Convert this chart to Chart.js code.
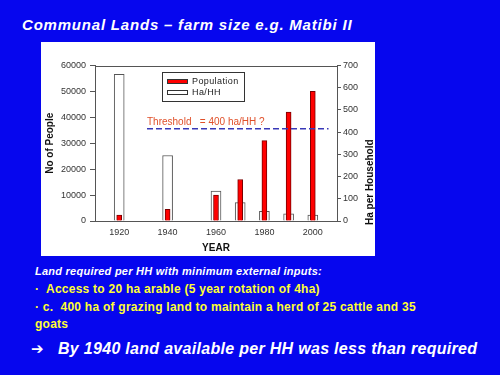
<!DOCTYPE html>
<html>
<head>
<meta charset="utf-8">
<script src="https://cdn.jsdelivr.net/npm/chart.js@4.4.1/dist/chart.umd.min.js"></script>
<style>
  html, body { margin: 0; padding: 0; }
  body {
    width: 500px; height: 375px; overflow: hidden; position: relative;
    background: #0606ee; font-family: "Liberation Sans", Arial, sans-serif;
  }
  .txt { position: absolute; white-space: pre; line-height: 1; }
  .title { left: 22px; top: 17px; font-size: 15px; font-weight: bold; font-style: italic; color: #fff; letter-spacing: 0.8px; }
  .intro { left: 35px; top: 266px; font-size: 11px; font-weight: bold; font-style: italic; color: #fff; letter-spacing: 0.25px; }
  .bullet { left: 35px; font-size: 12px; font-weight: bold; color: #ffff33; letter-spacing: 0.25px; }
  .concl { left: 58px; top: 341px; font-size: 16px; font-weight: bold; font-style: italic; color: #fff; letter-spacing: 0.3px; }
  .arrow { left: 31px; top: 342px; font-family: "DejaVu Sans", sans-serif; font-size: 15px; font-weight: bold; color: #fff; }
  #panel { position: absolute; left: 41px; top: 42px; width: 334px; height: 214px; background: #fff; }
  #legend { position: absolute; left: 121px; top: 30px; width: 81px; height: 28px; border: 1px solid #333; background: #fff; }
  .leg-item { position: absolute; left: 4px; height: 10px; font-size: 9px; color: #222; letter-spacing: 0.4px; }
  .leg-item i { position: absolute; left: 0; top: 2px; width: 19px; height: 3px; border: 1px solid #333; }
  .leg-item span { position: absolute; left: 25px; top: -1px; }
  #threshold { position: absolute; left: 106px; top: 74px; font-size: 10px; color: #e0502a; white-space: pre; }
  #rtitle { position: absolute; left: 329px; top: 97px; font-size: 10px; font-weight: bold; color: #111; transform-origin: 0 0; transform: translate(-6px, 0) rotate(-90deg) translate(-86px, 0); white-space: pre; }
</style>
</head>
<body>
<div class="txt title">Communal Lands – farm size e.g. Matibi II</div>

<div id="panel">
  <canvas id="farm-chart"></canvas>
  <div id="legend"></div>
  <div id="threshold">Threshold   = 400 ha/HH ?</div>
  <div id="rtitle">Ha per Household</div>
</div>

<div class="txt intro">Land required per HH with minimum external inputs:</div>
<div class="txt bullet" style="top:283px">·  Access to 20 ha arable (5 year rotation of 4ha)</div>
<div class="txt bullet" style="top:301px">· c.  400 ha of grazing land to maintain a herd of 25 cattle and 35</div>
<div class="txt bullet" style="top:318px">goats</div>
<div class="txt arrow">➔</div>
<div class="txt concl">By 1940 land available per HH was less than required</div>

<script>
const years = [1920, 1940, 1960, 1970, 1980, 1990, 2000];
const population = [2300, 4500, 10000, 16000, 31000, 42000, 50000];
const haPerHousehold = [660, 295, 135, 83, 44, 32, 27];
const yearTicks = [1920, 1940, 1960, 1980, 2000];
const yearRange = [1910, 2010];
const thresholdYears = [1931.5, 2006.5];
const thresholdValue = 415;

const tickFont = { family: "'Liberation Sans', Arial, sans-serif", size: 9 };
const titleFont = { family: "'Liberation Sans', Arial, sans-serif", size: 10, weight: "bold" };

function pairs(xs, ys) {
  return xs.map((x, i) => ({ x, y: ys[i] }));
}

// top edge of the plot box
const plotFrame = {
  id: "plotFrame",
  afterDatasetsDraw(chart) {
    const { ctx, chartArea } = chart;
    ctx.save();
    ctx.strokeStyle = "#555";
    ctx.lineWidth = 1;
    ctx.beginPath();
    ctx.moveTo(chartArea.left, Math.round(chartArea.top) + 0.5);
    ctx.lineTo(chartArea.right, Math.round(chartArea.top) + 0.5);
    ctx.stroke();
    ctx.restore();
  },
};

const chart = new Chart(document.querySelector("#farm-chart"), {
  type: "bar",
  data: {
    datasets: [
      {
        label: "Population",
        data: pairs(years, population),
        yAxisID: "yL",
        backgroundColor: "#ff0000",
        borderColor: "#7a0000",
        borderWidth: 1,
        barThickness: 5,
        grouped: false,
        order: 1,
      },
      {
        label: "Ha/HH",
        data: pairs(years, haPerHousehold),
        yAxisID: "yR",
        backgroundColor: "#ffffff",
        borderColor: "#555",
        borderWidth: 1,
        barThickness: 10,
        grouped: false,
        order: 2,
      },
      {
        type: "line",
        label: "Threshold",
        data: pairs(thresholdYears, [thresholdValue, thresholdValue]),
        yAxisID: "yR",
        borderColor: "#3838b8",
        borderWidth: 1.6,
        borderDash: [6, 3],
        pointRadius: 0,
        fill: false,
        order: 0,
      },
    ],
  },
  options: {
    responsive: true,
    maintainAspectRatio: false,
    animation: false,
    layout: { padding: { top: 23.5, left: 0, right: 0, bottom: 0 } },
    plugins: { legend: { display: false }, tooltip: { enabled: false } },
    scales: {
      x: {
        type: "linear",
        min: yearRange[0],
        max: yearRange[1],
        offset: false,
        afterBuildTicks: (scale) => { scale.ticks = yearTicks.map((value) => ({ value })); },
        afterFit: (scale) => { scale.height = 35; },
        grid: { display: true, drawOnChartArea: false, drawTicks: false, offset: false },
        border: { color: "#555", width: 1 },
        ticks: { color: "#333", font: tickFont, padding: 6, maxRotation: 0, callback: (v) => String(v) },
        title: { display: true, text: "YEAR", color: "#111", font: titleFont, padding: { top: 0, bottom: 2 } },
      },
      yL: {
        position: "left",
        min: 0,
        max: 60000,
        afterFit: (scale) => { scale.width = 54; },
        grid: { display: true, drawOnChartArea: false, tickLength: 5, color: "#555" },
        border: { color: "#555", width: 1 },
        ticks: { stepSize: 10000, color: "#333", font: tickFont, padding: 4, callback: (v) => String(v) },
        title: { display: true, text: "No of People", color: "#111", font: titleFont, padding: { top: 3, bottom: 0 } },
      },
      yR: {
        position: "right",
        min: 0,
        max: 700,
        afterFit: (scale) => { scale.width = 38; },
        grid: { display: true, drawOnChartArea: false, tickLength: 4, color: "#555" },
        border: { color: "#555", width: 1 },
        ticks: { stepSize: 100, color: "#333", font: tickFont, padding: 2, callback: (v) => String(v) },
      },
    },
  },
  plugins: [plotFrame],
});

function renderLegend(chartRef) {
  const box = document.querySelector("#legend");
  box.innerHTML = "";
  chartRef.data.datasets
    .filter((ds) => ds.type !== "line")
    .forEach((ds, index) => {
      const item = document.createElement("div");
      item.className = "leg-item";
      item.style.top = `${4 + index * 11}px`;
      item.innerHTML = `<i style="background:${ds.backgroundColor}"></i><span>${ds.label}</span>`;
      box.appendChild(item);
    });
}

renderLegend(chart);
</script>
</body>
</html>
